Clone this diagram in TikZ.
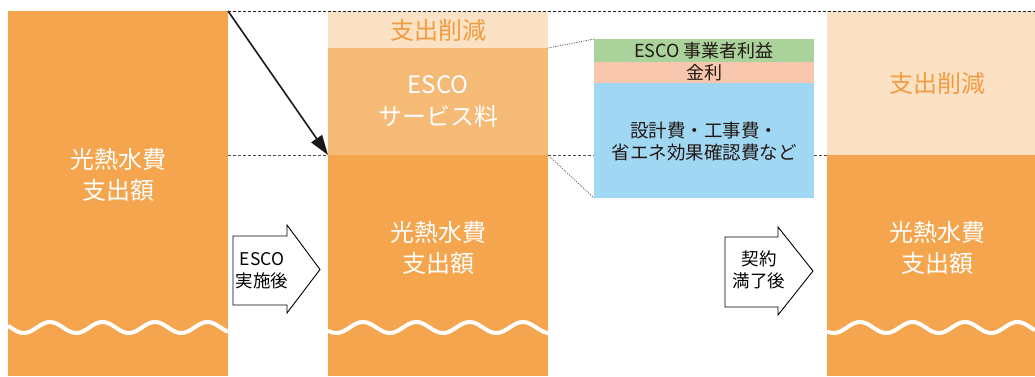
\documentclass[tikz,border=0pt]{standalone}
\usepackage{fontspec}
\setmainfont{Noto Sans CJK JP}
\usetikzlibrary{arrows.meta}
\definecolor{orangeA}{HTML}{F4A54D}
\definecolor{lightA}{HTML}{FCE2C5}
\definecolor{svcA}{HTML}{F6BA77}
\definecolor{greenA}{HTML}{A9D39B}
\definecolor{salmonA}{HTML}{F8C7AE}
\definecolor{blueA}{HTML}{A0D8F3}
\definecolor{otext}{HTML}{F29B40}
\definecolor{dtext}{HTML}{231815}
\begin{document}
\begin{tikzpicture}[x=1pt,y=-1pt,
  box/.style={anchor=north west, inner sep=0pt, outer sep=0pt, draw=none},
  wlabel/.style={text=white, align=center, font=\fontsize{24}{31}\selectfont, inner sep=0pt},
  olabel/.style={text=otext, align=center, font=\fontsize{24}{31}\selectfont, inner sep=0pt},
  dlabel/.style={text=dtext, align=center, font=\fontsize{18}{22}\selectfont, inner sep=0pt},
  alabel/.style={text=black, align=center, font=\fontsize{17.5}{22}\selectfont, inner sep=0pt},
  wave/.style={draw=white, line width=4pt},
  guide/.style={draw=black!70, line width=0.7pt, dash pattern=on 3pt off 2pt},
  topguide/.style={draw=black!85, line width=0.7pt, dash pattern=on 3pt off 2pt},
  zoomline/.style={draw=black!65, line width=0.7pt, dash pattern=on 1.2pt off 1.2pt},
  blockarrow/.style={draw=black, line width=0.9pt, fill=white, line join=miter},
  mainarrow/.style={draw=black!90, line width=1.6pt, -{Triangle[length=20pt,width=13pt]}}
]
\useasboundingbox (0,0) rectangle (1035,376);

% left column
\node[box, fill=orangeA, minimum width=220pt, minimum height=365pt] (colA) at (8,11) {};
\node[wlabel] (colAtext) at (118,174.5) {光熱水費\\支出額};

% middle column
\node[box, fill=lightA, minimum width=220pt, minimum height=37pt] (midTop) at (328,11) {};
\node[box, fill=svcA, minimum width=220pt, minimum height=107pt] (midSvc) at (328,48) {};
\node[box, fill=orangeA, minimum width=220pt, minimum height=221pt] (midBase) at (328,155) {};
\node[olabel] (midTopText) at (438,30.5) {支出削減};
\node[wlabel, font=\fontsize{24}{32}\selectfont] (midSvcText) at (438,101.5) {ESCO\\サービス料};
\node[wlabel] (midBaseText) at (438,247.5) {光熱水費\\支出額};

% right column
\node[box, fill=lightA, minimum width=208pt, minimum height=144pt] (rTop) at (827,11) {};
\node[box, fill=orangeA, minimum width=208pt, minimum height=221pt] (rBase) at (827,155) {};
\node[olabel] (rTopText) at (937,83) {支出削減};
\node[wlabel] (rBaseText) at (937,248) {光熱水費\\支出額};

% waves
\draw[wave] plot[domain=8:228, samples=150, smooth] (\x, {327.5-5.5*cos(6.857*(\x-50))});
\draw[wave] plot[domain=328:548, samples=150, smooth] (\x, {327.5-5.5*cos(6.754*(\x-363))});
\draw[wave] plot[domain=827:1035, samples=150, smooth] (\x, {327.5-5.5*cos(6.857*(\x-860))});

% breakdown box
\node[box, fill=greenA, minimum width=220pt, minimum height=23pt] (zGreen) at (594,39) {};
\node[box, fill=salmonA, minimum width=220pt, minimum height=21pt] (zSalmon) at (594,62) {};
\node[box, fill=blueA, minimum width=220pt, minimum height=115pt] (zBlue) at (594,83) {};
\node[dlabel] (zGreenText) at (704,50.5) {ESCO 事業者利益};
\node[dlabel] (zSalmonText) at (704,72.5) {金利};
\node[dlabel, font=\fontsize{18.5}{22}\selectfont] (zBlueText) at (704,141) {設計費・工事費・\\省エネ効果確認費など};

% guide lines
\coordinate (topEnd) at (1035,11);
\draw[topguide] (colA.north east) -- (topEnd);
\draw[guide] (colA.east |- midBase.north) -- (midBase.north west);
\draw[guide] (midBase.north east) -- (zBlue.west |- midBase.north);
\draw[guide] (zBlue.east |- midBase.north) -- (rBase.north west);
\draw[zoomline] (midSvc.north east) -- (zGreen.north west);
\draw[zoomline] (midBase.north east) -- (zBlue.south west);

% main diagonal arrow
\draw[mainarrow] (colA.north east) -- (midBase.north west);

% block arrows
\draw[blockarrow] (233,236) -- (287,236) -- (287,225) -- (320,269.5) -- (287,313) -- (287,305) -- (233,305) -- cycle;
\node[alabel] (arrow1text) at (262,271) {ESCO\\実施後};
\draw[blockarrow] (725,237) -- (778,237) -- (778,227) -- (813,271) -- (778,315) -- (778,307) -- (725,307) -- cycle;
\node[alabel] (arrow2text) at (759,270) {契約\\満了後};
\end{tikzpicture}
\end{document}
